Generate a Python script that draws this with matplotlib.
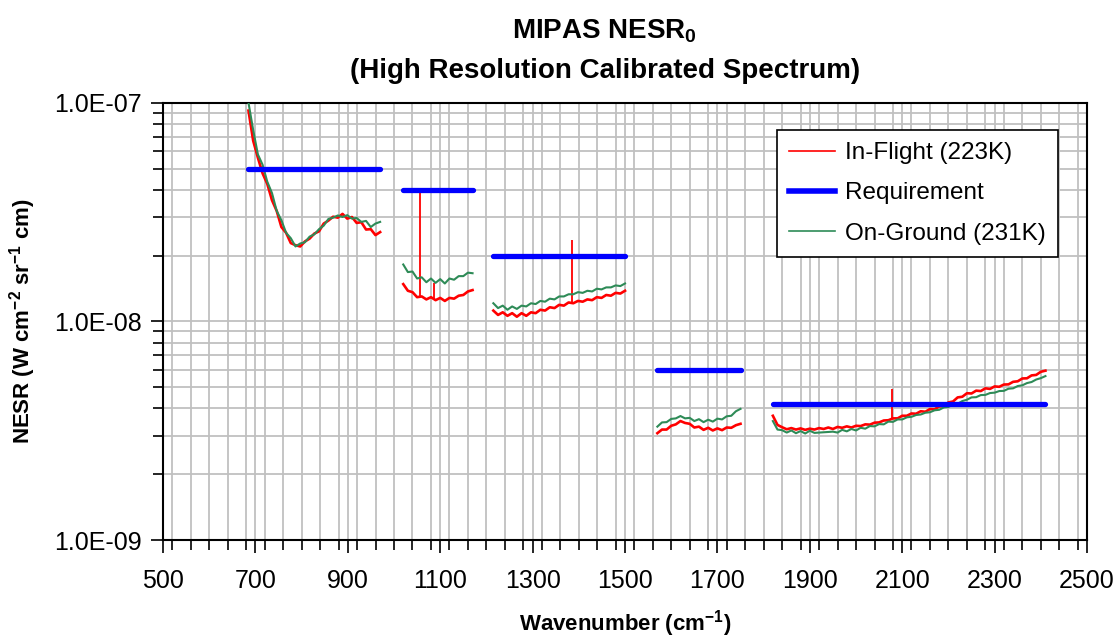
import numpy as np
import matplotlib
matplotlib.use("Agg")
import matplotlib.pyplot as plt
from matplotlib.ticker import MultipleLocator, LogLocator, FuncFormatter, NullFormatter
from matplotlib.lines import Line2D

plt.rcParams['font.family'] = ['Liberation Sans', 'DejaVu Sans']
plt.rcParams['mathtext.fontset'] = 'custom'
plt.rcParams['mathtext.rm'] = 'Liberation Sans'
plt.rcParams['mathtext.bf'] = 'Liberation Sans:bold'

## DATA (NESR in 1e-9 W cm-2 sr-1 cm)

band_edges = [(685, 970), (1020, 1170), (1215, 1500), (1570, 1750), (1820, 2410)]
requirement = [50.0, 40.0, 20.0, 6.0, 4.2]

flight_a = [92, 67, 56, 47.5, 42.5, 35.8, 32.0, 27.0, 25.4, 22.8, 22.3, 22.0, 23.2, 23.9, 25.2,
            25.8, 28.0, 28.9, 30.1, 29.8, 31.0, 29.5, 30.0, 28.2, 28.4, 26.3, 26.4, 24.8, 25.6]
ground_a = [100, 75, 58, 52, 43.5, 38.6, 32.0, 29.0, 25.4, 24.0, 22.0, 22.7, 23.0, 24.4, 25.0,
            26.4, 27.4, 29.4, 29.8, 30.5, 30.0, 30.6, 29.5, 29.7, 28.5, 28.8, 27.0, 28.0, 28.5]

flight_ab = [14.8, 13.8, 13.6, 12.9, 13.0, 12.6, 12.9, 12.5, 12.8, 12.4, 12.8, 12.7, 13.1, 13.2, 13.7, 13.9]
ground_ab = [18.2, 16.8, 16.9, 15.7, 15.9, 15.1, 15.7, 15.0, 15.6, 14.9, 15.7, 15.5, 16.1, 16.1, 16.7, 16.6]

flight_b = [11.2, 10.7, 11.0, 10.6, 10.9, 10.5, 10.9, 10.6, 11.0, 10.9, 11.3, 11.2, 11.6, 11.5, 11.9,
            11.8, 12.2, 12.1, 12.4, 12.3, 12.6, 12.5, 12.9, 12.8, 13.2, 13.1, 13.5, 13.4, 13.8]
ground_b = [12.1, 11.5, 11.8, 11.3, 11.7, 11.4, 11.8, 11.7, 12.1, 12.0, 12.4, 12.3, 12.7, 12.6, 13.0,
            13.0, 13.3, 13.3, 13.6, 13.5, 13.8, 13.7, 14.1, 14.0, 14.3, 14.3, 14.6, 14.5, 14.9]

flight_c = [3.08, 3.20, 3.20, 3.33, 3.38, 3.50, 3.43, 3.40, 3.27, 3.30, 3.19, 3.26, 3.17, 3.24,
            3.18, 3.27, 3.26, 3.35, 3.40]
ground_c = [3.30, 3.45, 3.46, 3.58, 3.60, 3.69, 3.60, 3.62, 3.50, 3.57, 3.46, 3.55, 3.48, 3.59,
            3.56, 3.68, 3.70, 3.88, 3.98]

flight_d = [3.70, 3.36, 3.28, 3.21, 3.25, 3.20, 3.24, 3.19, 3.23, 3.20, 3.25, 3.22, 3.27, 3.22, 3.29,
            3.26, 3.31, 3.27, 3.33, 3.32, 3.38, 3.37, 3.44, 3.45, 3.52, 3.53, 3.60, 3.60, 3.70, 3.70,
            3.79, 3.78, 3.88, 3.86, 3.97, 3.96, 4.08, 4.10, 4.26, 4.30, 4.49, 4.52, 4.69, 4.68, 4.82,
            4.80, 4.94, 4.91, 5.04, 5.02, 5.14, 5.15, 5.29, 5.32, 5.48, 5.49, 5.66, 5.69, 5.88, 5.95]
ground_d = [3.50, 3.20, 3.18, 3.10, 3.17, 3.08, 3.15, 3.07, 3.16, 3.09, 3.10, 3.11, 3.12, 3.13, 3.10,
            3.19, 3.14, 3.22, 3.17, 3.26, 3.23, 3.32, 3.31, 3.39, 3.38, 3.48, 3.47, 3.56, 3.56, 3.64,
            3.66, 3.73, 3.75, 3.82, 3.84, 3.92, 3.94, 4.04, 4.06, 4.17, 4.20, 4.32, 4.38, 4.49, 4.50,
            4.60, 4.61, 4.70, 4.72, 4.80, 4.81, 4.92, 4.94, 5.06, 5.10, 5.22, 5.28, 5.42, 5.50, 5.62]

flight_bands = [flight_a, flight_ab, flight_b, flight_c, flight_d]
ground_bands = [ground_a, ground_ab, ground_b, ground_c, ground_d]

# spikes in the in-flight spectrum (wavenumber, peak value)
spike_x = [1056, 1087, 1385, 2077]
spike_top = [38.5, 15.0, 23.5, 4.9]

x_ticks = [500, 700, 900, 1100, 1300, 1500, 1700, 1900, 2100, 2300, 2500]

## PLOT

fig = plt.figure(figsize=(11.18, 6.39), dpi=100)
ax = fig.add_axes([0.1458, 0.1549, 0.8265, 0.6844])

RED = '#ff0000'
GREEN = '#2e8b57'
BLUE = '#0000ff'
E = 1e-9

for (x0, x1), fl in zip(band_edges, flight_bands):
    xs = np.linspace(x0, x1, len(fl))
    ax.plot(xs, np.array(fl) * E, color=RED, lw=1.9, zorder=3)

for sx, st in zip(spike_x, spike_top):
    for (x0, x1), fl in zip(band_edges, flight_bands):
        if x0 <= sx <= x1:
            base = np.interp(sx, np.linspace(x0, x1, len(fl)), fl)
            ax.vlines(sx, base * E, st * E, color=RED, lw=1.3, zorder=3)

for (x0, x1), gr in zip(band_edges, ground_bands):
    xs = np.linspace(x0, x1, len(gr))
    ax.plot(xs, np.array(gr) * E, color=GREEN, lw=1.5, zorder=4)

for (x0, x1), r in zip(band_edges, requirement):
    ax.plot([x0, x1], [r * E, r * E], color=BLUE, lw=3.8, solid_capstyle='round', zorder=5)

ax.set_yscale('log')
ax.set_xlim(500, 2500)
ax.set_ylim(1e-9, 1e-7)

ax.set_xticks(x_ticks)
ax.xaxis.set_minor_locator(MultipleLocator(40))
ax.yaxis.set_major_locator(LogLocator(base=10))
ax.yaxis.set_minor_locator(LogLocator(base=10, subs=np.arange(2, 10)))
ax.yaxis.set_major_formatter(FuncFormatter(lambda v, p: '%.1E' % v))
ax.yaxis.set_minor_formatter(NullFormatter())

ax.grid(True, which='both', color='#c0c0c0', lw=1.3, zorder=0)
ax.set_axisbelow(True)

ax.tick_params(axis='both', which='major', labelsize=18, direction='out', length=9, width=1.2, color='black')
ax.tick_params(axis='both', which='minor', direction='out', length=7, width=1.2, color='black')
ax.tick_params(axis='x', pad=12)
ax.tick_params(axis='y', pad=6)
for s in ax.spines.values():
    s.set_linewidth(1.5)
    s.set_color('black')

ax.set_xlabel(r'Wavenumber (cm$^{\mathbf{-1}}$)', fontsize=16, fontweight='bold', labelpad=11)
ax.set_ylabel(r'NESR (W cm$^{\mathbf{-2}}$ sr$^{\mathbf{-1}}$ cm)', fontsize=16, fontweight='bold', labelpad=12)

fig.text(0.541, 1 - 38 / 639, r'MIPAS NESR$_\mathbf{0}$', ha='center', va='baseline',
         fontsize=20, fontweight='bold')
fig.text(0.541, 1 - 78 / 639, '(High Resolution Calibrated Spectrum)', ha='center', va='baseline',
         fontsize=20, fontweight='bold')

handles = [Line2D([], [], color=RED, lw=1.2),
           Line2D([], [], color=BLUE, lw=4),
           Line2D([], [], color=GREEN, lw=1.2)]
labels = ['In-Flight (223K)', 'Requirement', 'On-Ground (231K)']
leg = ax.legend(handles, labels, loc='upper right', bbox_to_anchor=(0.9686, 0.9374),
                fontsize=17.5, fancybox=False, framealpha=1, edgecolor='black',
                handlelength=1.9, handletextpad=0.4, labelspacing=0.75, borderpad=0.5,
                borderaxespad=0)
leg.get_frame().set_linewidth(1.2)
leg.set_zorder(10)

fig.savefig('out.png', dpi=100)
